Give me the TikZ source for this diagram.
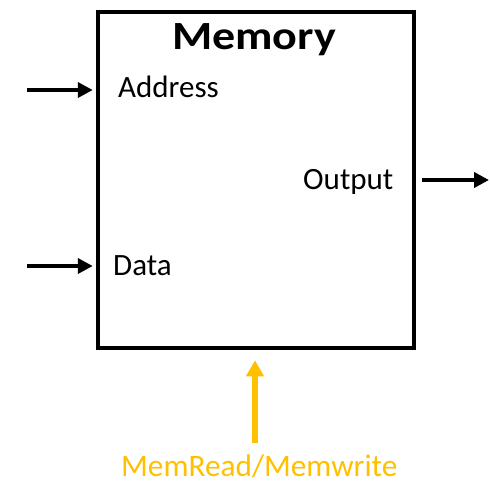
\documentclass[tikz,border=0pt]{standalone}
\usepackage{fontspec}
\setmainfont{Carlito}
\usetikzlibrary{arrows.meta}
\definecolor{gold}{HTML}{FFC000}
\tikzset{
  blockbox/.style={draw=black, line width=4.5pt, minimum width=316pt, minimum height=336pt, inner sep=0pt},
  lbl/.style={anchor=base west, inner sep=0pt, font=\fontsize{31}{37}\selectfont},
  arr/.style={line width=4.5pt, -{Triangle[length=15pt,width=15pt]}},
  ctlarr/.style={line width=6pt, draw=gold, -{Triangle[length=16pt,width=17pt]}}
}
\begin{document}
\begin{tikzpicture}[x=1pt,y=-1pt]
\useasboundingbox (0,0) rectangle (490,483);
\node[blockbox] (mem) at (256,180) {};
\node[anchor=base west, inner sep=0pt, xscale=1.15, font=\fontsize{40}{48}\selectfont\bfseries] (title) at (172,49) {Memory};
\node[lbl] (addr) at (118,97) {Address};
\node[lbl] (data) at (113,275) {Data};
\node[lbl] (out) at (303,189) {Output};
\node[anchor=base west, inner sep=0pt, text=gold, font=\fontsize{31.3}{37}\selectfont] (ctl) at (121,476) {MemRead/Memwrite};
\coordinate (ain) at (27,90);
\coordinate (din) at (27,266);
\coordinate (oout) at (489,180);
\coordinate (cin) at (255,443);
\draw[arr, shorten >=3pt] (ain) -- (ain -| mem.west);
\draw[arr, shorten >=3pt] (din) -- (din -| mem.west);
\draw[arr, shorten <=6pt] (oout -| mem.east) -- (oout);
\draw[ctlarr, shorten >=10pt] (cin) -- (cin |- mem.south);
\end{tikzpicture}
\end{document}
